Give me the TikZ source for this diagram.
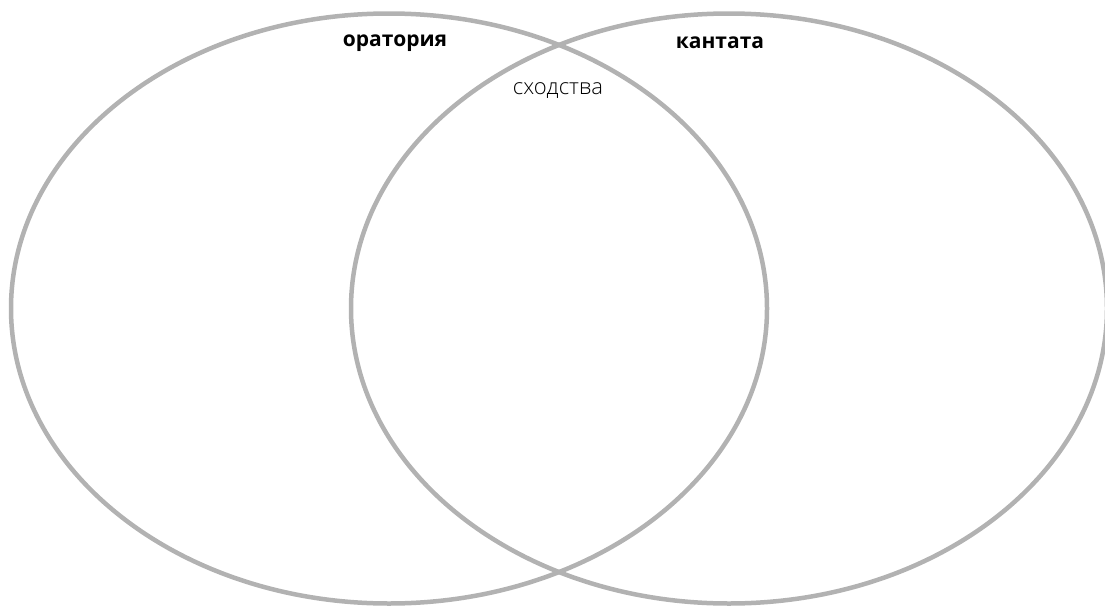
\documentclass[tikz,border=0pt]{standalone}
\usepackage{fontspec}
\setmainfont{Open Sans}
\newfontfamily\lightfont{Open Sans Light}
\begin{document}
\begin{tikzpicture}[
    x=1pt, y=-1pt,
    circ/.style={draw=gray!60, line width=4.5pt},
    title/.style={font=\fontsize{21}{25}\selectfont\bfseries, inner sep=0pt},
    common/.style={font=\fontsize{22}{26}\selectfont\lightfont, inner sep=0pt}
]
\useasboundingbox (0,0) rectangle (1105,608);

\draw[circ] (389,308.5) ellipse [x radius=378, y radius=295];
\draw[circ] (729,308.5) ellipse [x radius=378, y radius=295];

\node[title] (orat) at (395,43) {оратория};
\node[title] (kant) at (720,43) {кантата};
\node[common] (shod) at (558,91) {сходства};

\end{tikzpicture}
\end{document}
